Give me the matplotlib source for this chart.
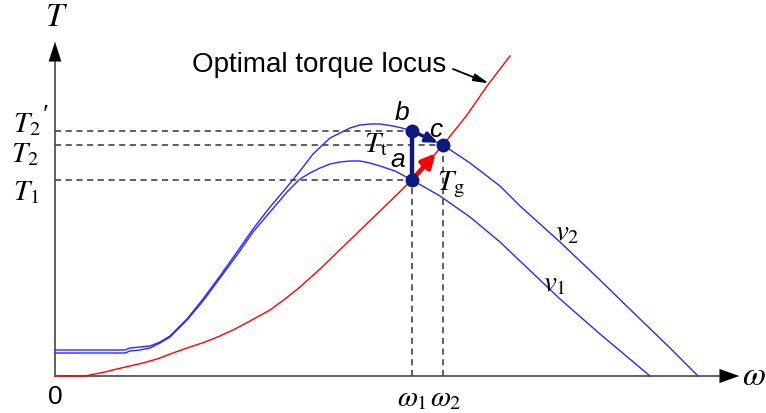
import numpy as np
import matplotlib
matplotlib.use("Agg")
import matplotlib.pyplot as plt

plt.rcParams['font.family'] = ['Liberation Sans', 'DejaVu Sans']
plt.rcParams['mathtext.fontset'] = 'stix'

# torque-speed curves for two wind speeds (v1 < v2)
w_v2 = [0, 0.70, 0.75, 0.85, 0.95, 1.05, 1.15, 1.32, 1.48, 1.65, 1.82, 1.98, 2.15, 2.32, 2.45,
        2.58, 2.75, 2.85, 2.95, 3.05, 3.15, 3.25, 3.38, 3.47, 3.57, 3.88, 4.15, 4.45, 4.65, 5.05,
        5.45, 5.85, 6.15, 6.43]
T_v2 = [0.26, 0.26, 0.28, 0.29, 0.30, 0.34, 0.40, 0.57, 0.77, 1.00, 1.24, 1.47, 1.69, 1.89, 2.05,
        2.22, 2.38, 2.43, 2.48, 2.51, 2.52, 2.52, 2.50, 2.48, 2.45, 2.31, 2.13, 1.90, 1.70, 1.34,
        0.96, 0.57, 0.28, 0.00]

w_v1 = [0, 0.70, 0.75, 0.85, 0.95, 1.05, 1.15, 1.32, 1.48, 1.65, 1.82, 1.98, 2.15, 2.32, 2.45,
        2.55, 2.65, 2.75, 2.85, 2.95, 3.05, 3.15, 3.25, 3.40, 3.57, 3.85, 4.15, 4.45, 4.65, 5.05,
        5.45, 5.95]
T_v1 = [0.23, 0.23, 0.25, 0.26, 0.28, 0.33, 0.39, 0.56, 0.75, 0.98, 1.21, 1.44, 1.64, 1.84, 1.97,
        2.03, 2.08, 2.12, 2.14, 2.15, 2.15, 2.13, 2.10, 2.05, 1.96, 1.80, 1.59, 1.34, 1.15, 0.77,
        0.42, 0.00]

# optimal torque locus
w_opt = [0, 0.30, 0.40, 0.50, 0.62, 0.75, 0.88, 1.02, 1.18, 1.35, 1.50, 1.65, 1.80, 1.95, 2.15,
         2.30, 2.45, 2.65, 2.95, 3.25, 3.57, 3.88, 4.12, 4.32, 4.55]
T_opt = [0, 0, 0.02, 0.04, 0.07, 0.10, 0.13, 0.17, 0.23, 0.29, 0.34, 0.40, 0.47, 0.55, 0.66,
         0.77, 0.89, 1.07, 1.36, 1.65, 1.96, 2.31, 2.61, 2.90, 3.20]

# operating points
w1, w2 = 3.57, 3.88
T1, T2, T2p = 1.96, 2.31, 2.45
pt_a = (w1, T1)
pt_b = (w1, T2p)
pt_c = (w2, T2)

fig = plt.figure(figsize=(7.66, 4.14), dpi=100)
ax = fig.add_axes([0, 0, 1, 1])
ax.set_xlim(-0.55, 7.11)
ax.set_ylim(-0.37, 3.77)
ax.axis('off')

navy = '#0b1a7c'
blue = '#2828ff'

# axes with arrows
ax.plot([0, 6.70], [0, 0], color='#555555', lw=1.3, zorder=2)
ax.plot([0, 0], [0, 3.22], color='#555555', lw=1.3, zorder=2)
ax.annotate('', xy=(6.87, 0), xytext=(6.66, 0),
            arrowprops=dict(arrowstyle='-|>,head_length=1.4,head_width=0.5', color='black', lw=0.1))
ax.annotate('', xy=(0, 3.37), xytext=(0, 3.17),
            arrowprops=dict(arrowstyle='-|>,head_length=1.4,head_width=0.45', color='black', lw=0.1))

# curves
ax.plot(w_v2, T_v2, color=blue, lw=1.0, zorder=3)
ax.plot(w_v1, T_v1, color=blue, lw=1.0, zorder=3)
ax.plot(w_opt, T_opt, color='red', lw=1.0, zorder=3)

# guide lines
dash = dict(color='#333333', lw=1.1, ls=(0, (4, 3)), zorder=1)
ax.plot([0, w1], [T2p, T2p], **dash)
ax.plot([0, w2], [T2, T2], **dash)
ax.plot([0, w1], [T1, T1], **dash)
ax.plot([w1, w1], [0, T1], **dash)
ax.plot([w2, w2], [0, T2], **dash)

# control path a -> b -> c and a -> c
ax.plot([pt_a[0], pt_b[0]], [pt_a[1], pt_b[1]], color=navy, lw=3.2, zorder=5)
ax.annotate('', xy=pt_c, xytext=pt_b,
            arrowprops=dict(arrowstyle='-|>,head_length=0.7,head_width=0.3', color=navy, lw=2.5,
                            shrinkB=4), zorder=5)
ax.annotate('', xy=pt_c, xytext=pt_a,
            arrowprops=dict(arrowstyle='-|>,head_length=0.8,head_width=0.4', color='red', lw=3.4,
                            shrinkB=8), zorder=4)
ax.plot([pt_a[0], pt_b[0], pt_c[0]], [pt_a[1], pt_b[1], pt_c[1]], 'o', color=navy, ms=9, zorder=6)

# locus label with pointer
w_tip = 4.34
ax.text(1.37, 3.12, 'Optimal torque locus', fontsize=20, ha='left', va='center')
ax.annotate('', xy=(w_tip, np.interp(w_tip, w_opt, T_opt)), xytext=(3.98, 3.07),
            arrowprops=dict(arrowstyle='-|>,head_length=0.9,head_width=0.22', color='black', lw=1.3,
                            shrinkA=0, shrinkB=0))

# point labels
ax.text(3.47, 2.64, 'b', fontsize=19, style='italic', ha='center', va='center')
ax.text(3.81, 2.47, 'c', fontsize=19, style='italic', ha='center', va='center')
ax.text(3.43, 2.17, 'a', fontsize=19, style='italic', ha='center', va='center')
ax.text(3.21, 2.33, r'$T_{\mathrm{t}}$', fontsize=21, ha='center', va='center')
ax.text(3.96, 1.92, r'$T_{\mathrm{g}}$', fontsize=21, ha='center', va='center')
ax.text(5.12, 1.45, r'$v_{2}$', fontsize=21, ha='center', va='center')
ax.text(4.99, 0.94, r'$v_{1}$', fontsize=21, ha='center', va='center')

# axis labels
ax.text(0.02, 3.59, r'$T$', fontsize=24, ha='center', va='center')
ax.text(6.99, 0.0, r'$\omega$', fontsize=24, ha='center', va='center')
ax.text(0, -0.20, '0', fontsize=19, ha='center', va='center')
ax.text(w1, -0.21, r'$\omega_1$', fontsize=21, ha='center', va='center')
ax.text(w2 + 0.03, -0.21, r'$\omega_2$', fontsize=21, ha='center', va='center')
ax.text(-0.14, T2p + 0.08, r'$T_2$', fontsize=21, ha='right', va='center')
ax.text(-0.09, T2p + 0.15, '\u2032', fontsize=20, family='Liberation Serif', ha='center', va='center')
ax.text(-0.16, T2 - 0.08, r'$T_2$', fontsize=21, ha='right', va='center')
ax.text(-0.16, T1 - 0.11, r'$T_1$', fontsize=21, ha='right', va='center')

fig.savefig('out.png', dpi=100)
